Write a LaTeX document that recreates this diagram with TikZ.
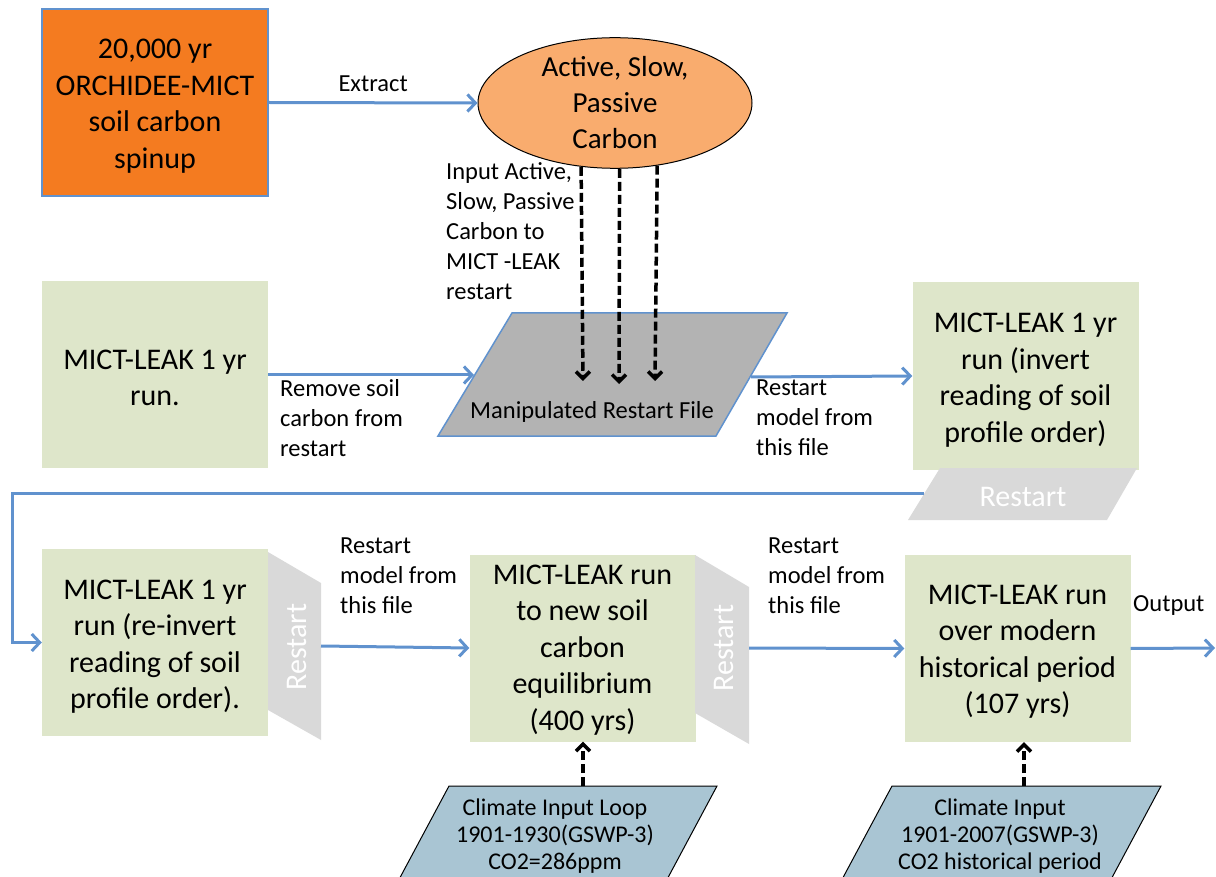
\documentclass[tikz,border=0pt]{standalone}
\usepackage{fontspec}
\setmainfont{Carlito}
\usetikzlibrary{arrows.meta,shapes.geometric,calc}
\definecolor{orangebox}{HTML}{F47B20}
\definecolor{ellfill}{HTML}{F9AC6E}
\definecolor{boxgreen}{HTML}{DEE6CA}
\definecolor{flowblue}{HTML}{6092CE}
\definecolor{manigray}{HTML}{B3B3B3}
\definecolor{restgray}{HTML}{D9D9D9}
\definecolor{climblue}{HTML}{A9C5D3}
\begin{document}
\begin{tikzpicture}[x=1pt,y=-1pt,
  box/.style={rectangle, fill=boxgreen, minimum width=226pt, minimum height=187pt, inner sep=0pt},
  boxtext/.style={inner sep=0pt, align=center, font=\fontsize{30}{36.5}\selectfont},
  lbl/.style={inner sep=0pt, align=left, font=\fontsize{24.5}{30}\selectfont},
  flow/.style={draw=flowblue, line width=3pt, -{Straight Barb[length=8pt,width=17pt]}},
  dashflow/.style={draw=black, line width=3.5pt, dash pattern=on 9pt off 4pt, -{Straight Barb[length=7pt,width=14pt]}},
  restshape/.style={fill=restgray},
  resttext/.style={inner sep=0pt, text=white, font=\fontsize{30}{36}\selectfont},
  climtext/.style={inner sep=0pt, align=center, font=\fontsize{24}{27}\selectfont},
]
\useasboundingbox (0,0) rectangle (1216,877);

% top-left orange box
\node[box, fill=orangebox, draw=flowblue, line width=1.5pt] (A) at (155,102.5) {};
\node[boxtext] (At) at ($(A)+(0,3.5)$) {20,000 yr\\ORCHIDEE-MICT\\soil carbon\\spinup};

% ellipse
\node[ellipse, fill=ellfill, draw=black, line width=1pt, minimum width=274pt, minimum height=126pt, inner sep=0pt, align=center, font=\fontsize{29}{36}\selectfont] (E0) at (615,103) {Active, Slow,\\Passive\\Carbon};

\draw[flow] (A.east) -- (E0.west) node[midway, above=10pt, lbl] {Extract};

% box B
\node[box] (B) at (155,374.5) {};
\node[boxtext] (Bt) at ($(B)+(0,3.5)$) {MICT-LEAK 1 yr\\run.};

% manipulated restart file parallelogram
\coordinate (P1) at (512,313);
\coordinate (P2) at (787,313);
\coordinate (P3) at (716,436);
\coordinate (P4) at (438,436);
\fill[manigray] (P1) -- (P2) -- (P3) -- (P4) -- cycle;
\draw[flowblue, line width=1.5pt] (P1) -- (P2) -- (P3) -- (P4) -- cycle;
\node[inner sep=0pt, font=\fontsize{24.5}{30}\selectfont] (P) at (592,411.5) {Manipulated Restart File};
\coordinate (Pin) at (474,375);
\coordinate (Pout) at (751,377);

\draw[flow] (B.east |- Pin) -- (Pin);
\node[lbl, anchor=west] (Lrem) at (280,418.5) {Remove soil\\carbon from\\restart};

% dashed arrows from ellipse
\coordinate (d1) at (583,381);
\coordinate (d2) at (619,384);
\coordinate (d3) at (655,381);
\draw[dashflow] (E0.242) -- (d1);
\draw[dashflow] (E0.274) -- (d2);
\draw[dashflow] (E0.304) -- (d3);
\node[lbl, anchor=west] (Lin) at (446,231.5) {Input Active,\\Slow, Passive\\Carbon to\\MICT -LEAK\\restart};

% box C
\node[box] (C) at (1025.5,376) {};
\node[boxtext] (Ct) at ($(C)+(0,4)$) {MICT-LEAK 1 yr\\run (invert\\reading of soil\\profile order)};
\draw[flow] (Pout) -- (C.west);
\node[lbl, anchor=west] (Lc) at (756,417.5) {Restart\\model from\\this file};

% restart parallelogram below C
\coordinate (R1a) at (940,468);
\coordinate (R1b) at (1137,468);
\coordinate (R1c) at (1107,520);
\coordinate (R1d) at (908,520);
\fill[restshape] (R1a) -- (R1b) -- (R1c) -- (R1d) -- cycle;
\node[resttext] (R1) at (1023,497) {Restart};
\coordinate (R1w) at (924,493);
\coordinate (L1) at (12,493);

% box D
\node[box] (D) at (155,642.5) {};
\node[boxtext] (Dt) at ($(D)+(0,4)$) {MICT-LEAK 1 yr\\run (re-invert\\reading of soil\\profile order).};
\draw[flow] (R1w) -- (L1) |- (D.west);

% rotated restart D
\fill[restshape] (268,552) -- (321,583) -- (321,740) -- (268,710) -- cycle;
\node[resttext, rotate=90] (RD) at (297,647) {Restart};
\coordinate (RDout) at (321,646);

% box E
\node[box] (E) at (582.5,648) {};
\node[boxtext] (Et) at ($(E)+(0,2)$) {MICT-LEAK run\\to new soil\\carbon\\equilibrium\\(400 yrs)};
\draw[flow] (RDout) -- (E.west);
\node[lbl, anchor=west] (Ld) at (340,576) {Restart\\model from\\this file};

% rotated restart E
\fill[restshape] (695,555) -- (749,587) -- (749,744) -- (695,713) -- cycle;
\node[resttext, rotate=90] (RE) at (724,648) {Restart};
\coordinate (REout) at (749,648);

% box F
\node[box] (F) at (1017.5,648.5) {};
\node[boxtext] (Ft) at ($(F)+(0,3)$) {MICT-LEAK run\\over modern\\historical period\\(107 yrs)};
\draw[flow] (REout) -- (F.west);
\node[lbl, anchor=west] (Le) at (768,576) {Restart\\model from\\this file};

\coordinate (Out) at (1215,648);
\draw[flow] (F.east) -- (Out);
\node[lbl, anchor=west] (Lo) at (1133,606) {Output};

% climate inputs
\fill[climblue] (449,786) -- (717,786) -- (656,900) -- (388,900) -- cycle;
\draw[black, line width=1pt] (388,900) -- (449,786) -- (717,786) -- (656,900);
\node[climtext] (C1) at (555,836) {Climate Input Loop\\1901-1930(GSWP-3)\\CO2=286ppm};
\coordinate (C1top) at (583,786);
\draw[dashflow] (C1top) -- (C1top |- E.south);

\fill[climblue] (892,786) -- (1161,786) -- (1100,900) -- (831,900) -- cycle;
\draw[black, line width=1pt] (831,900) -- (892,786) -- (1161,786) -- (1100,900);
\node[climtext] (C2) at (1000,836) {Climate Input\\1901-2007(GSWP-3)\\CO2 historical period};
\coordinate (C2top) at (1024,786);
\draw[dashflow] (C2top) -- (C2top |- F.south);
\end{tikzpicture}
\end{document}
